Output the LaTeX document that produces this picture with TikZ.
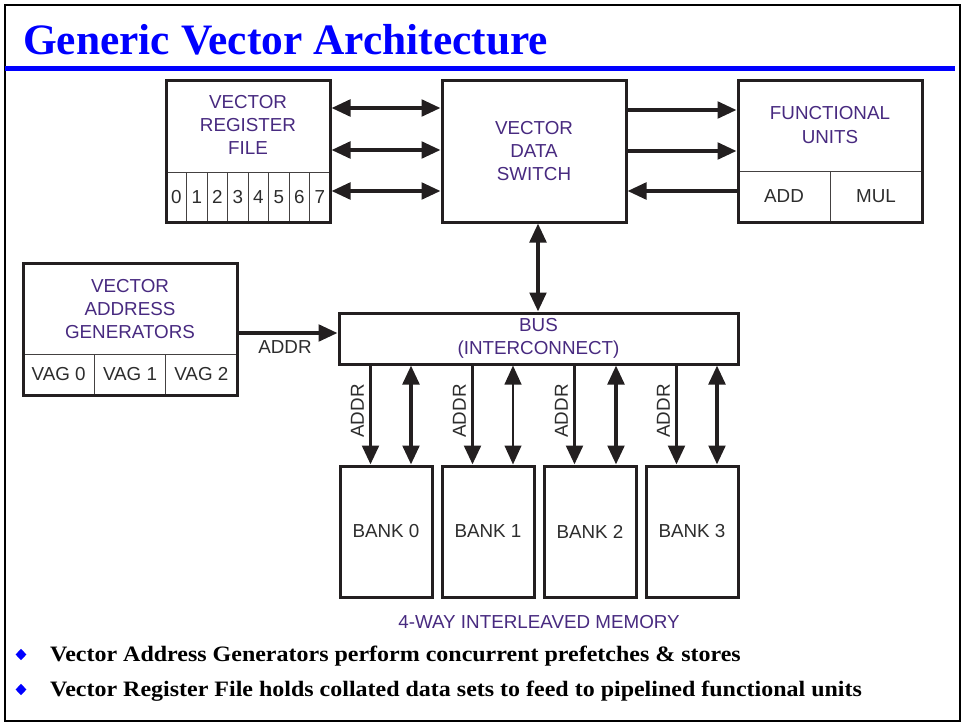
\documentclass[tikz,border=0pt]{standalone}
\usepackage{fontspec}
\usepackage{graphicx}
\setmainfont{Liberation Serif}
\newfontfamily\diagfont{Liberation Sans}
\usetikzlibrary{arrows.meta,shapes.geometric}
\definecolor{inkline}{RGB}{35,31,32}
\definecolor{labelpurple}{RGB}{72,42,128}
\definecolor{labelgray}{RGB}{45,45,45}
\definecolor{slideblue}{RGB}{0,0,255}
\newcommand{\diagsize}{\fontsize{18.8}{23.3}\selectfont}
\begin{document}
\begin{tikzpicture}[x=1pt,y=-1pt,
  box/.style={draw=inkline, line width=3pt, inner sep=0pt},
  cell/.style={draw=inkline!85, line width=1pt, inner sep=0pt, text=labelgray, font=\diagfont\diagsize},
  heading/.style={text=labelpurple, font=\diagfont\diagsize, align=center, inner sep=0pt},
  plain/.style={text=labelgray, font=\diagfont\diagsize, inner sep=0pt},
  dbl/.style={draw=inkline, line width=3.8pt, arrows={Triangle[length=19pt,width=16.5pt]-Triangle[length=19pt,width=16.5pt]}},
  dblthin/.style={dbl, line width=2.6pt},
  onearrow/.style={draw=inkline, line width=3.8pt, arrows={-Triangle[length=19pt,width=16.5pt]}},
  bullettext/.style={anchor=base west, inner sep=0pt, font=\fontsize{22}{26}\selectfont\bfseries},
  bulletmark/.style={diamond, fill=slideblue, minimum width=11pt, minimum height=11.5pt, inner sep=0pt}
]
% page and frame
\fill[white] (0,0) rectangle (964,723);
\useasboundingbox (0,0) rectangle (964,723);
\draw[black, line width=2pt] (5,5) rectangle (960,720.5);

% title and rule
\node[anchor=base west, inner sep=0pt, text=slideblue, font=\fontsize{43.4}{50}\selectfont\bfseries] (title) at (23,54) {Generic Vector Architecture};
\draw[slideblue, line width=4.5pt] (5,68.5) -- (955,68.5);

% vector register file
\foreach \i in {0,...,7}
  \node[cell, minimum width=20.5pt, minimum height=50pt] (rc\i) at ({176.25+20.5*\i},197) {\i};
\node[box, minimum width=164pt, minimum height=142pt] (rf) at (248,151) {};
\node[heading] (rft) at (248,125) {VECTOR\\REGISTER\\FILE};

% vector data switch
\node[box, minimum width=184pt, minimum height=142pt, heading] (sw) at (534,151) {VECTOR\\DATA\\SWITCH};

% functional units
\node[cell, minimum width=92pt, minimum height=51pt] (add) at (784,196.5) {ADD};
\node[cell, minimum width=92pt, minimum height=51pt] (mul) at (876,196.5) {MUL};
\node[box, minimum width=184pt, minimum height=142pt] (fu) at (830,151) {};
\node[heading] (fut) at (830,125) {FUNCTIONAL\\UNITS};

% vector address generators
\node[cell, minimum width=71.33pt, minimum height=41pt] (vg0) at (58.67,374.5) {VAG 0};
\node[cell, minimum width=71.33pt, minimum height=41pt] (vg1) at (130,374.5) {VAG 1};
\node[cell, minimum width=71.33pt, minimum height=41pt] (vg2) at (201.33,374.5) {VAG 2};
\node[box, minimum width=214pt, minimum height=132pt] (vag) at (130,329) {};
\node[heading] (vagt) at (130,309) {VECTOR\\ADDRESS\\GENERATORS};

% bus
\node[box, minimum width=399pt, minimum height=51pt, heading] (bus) at (538.5,338.5) {BUS\\(INTERCONNECT)};

% memory banks
\foreach \i/\cx in {0/386,1/488,2/590,3/692}
  \node[box, minimum width=92pt, minimum height=131pt, plain] (b\i) at (\cx,531.5) {BANK \i};
\node[heading] (mem) at (539,622) {4-WAY INTERLEAVED MEMORY};

% register file <-> switch
\foreach \yy in {108,150,191}
  \draw[dbl] (rf.east |- 0,\yy) -- (sw.west |- 0,\yy);

% switch <-> functional units
\draw[onearrow] (sw.east |- 0,110) -- (fu.west |- 0,110);
\draw[onearrow] (sw.east |- 0,151) -- (fu.west |- 0,151);
\draw[onearrow] (fu.west |- 0,191) -- (sw.east |- 0,191);

% switch <-> bus
\draw[dbl] (sw.south -| 538,0) -- (bus.north -| 538,0);

% address generators -> bus
\draw[onearrow] (vag.east |- 0,333) -- (bus.west |- 0,333);
\node[plain] (addrv) at (285,347) {ADDR};

% bus <-> banks
\foreach \i/\bx in {0/340,1/442,2/544,3/646}{
  \draw[onearrow] (bus.south -| {\bx+30.5},0) -- (b\i.north -| {\bx+30.5},0);
  \node[plain, rotate=90] (addr\i) at ({\bx+17.5},411) {ADDR};
}
\draw[dbl] (bus.south -| 411,0) -- (b0.north -| 411,0);
\draw[dblthin] (bus.south -| 513,0) -- (b1.north -| 513,0);
\draw[dbl] (bus.south -| 616,0) -- (b2.north -| 616,0);
\draw[dbl] (bus.south -| 717,0) -- (b3.north -| 717,0);

% notes
\node[bulletmark] (d1) at (21,654.5) {};
\node[bullettext] (n1) at (50,661.7) {\scalebox{1.09}[1]{Vector Address Generators perform concurrent prefetches \& stores}};
\node[bulletmark] (d2) at (21,689.5) {};
\node[bullettext] (n2) at (50,696.7) {\scalebox{1.09}[1]{Vector Register File holds collated data sets to feed to pipelined functional units}};
\end{tikzpicture}
\end{document}
